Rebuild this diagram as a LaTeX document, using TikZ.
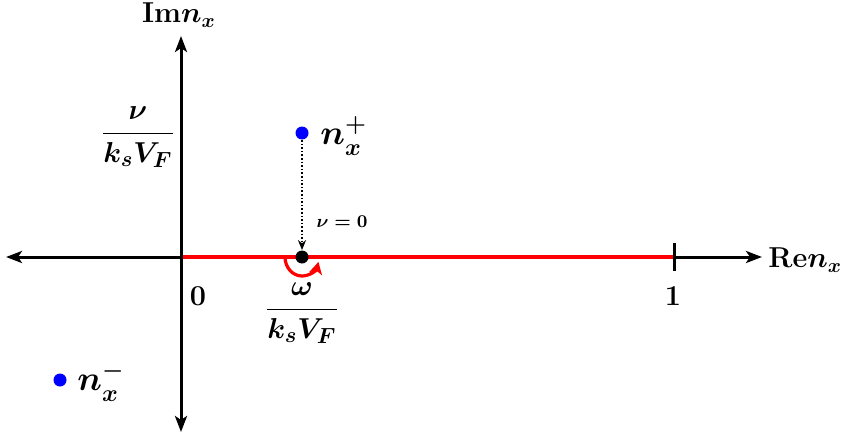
\documentclass[tikz,border=0pt]{standalone}
\usepackage{amsmath}
\usetikzlibrary{arrows.meta}
\begin{document}
\begin{tikzpicture}[x=0.5pt,y=-0.5pt,
  axis/.style={line width=1.5pt,{Stealth[length=8pt,width=6pt,inset=2pt]}-{Stealth[length=8pt,width=6pt,inset=2pt]}},
  redline/.style={red,line width=2pt},
  pt/.style={circle,fill=#1,inner sep=0pt,minimum size=6.5pt},
  lab/.style={font=\LARGE\boldmath,inner sep=1pt},
  frac/.style={font=\fontsize{15.5}{18}\selectfont\boldmath,inner sep=1pt},
  axlab/.style={font=\Large\boldmath,inner sep=1pt}]
\useasboundingbox (0,0) rectangle (844,433);
\coordinate (xl) at (6,257);
\coordinate (xr) at (762,257);
\coordinate (yt) at (181,36);
\coordinate (yb) at (181,432);
\coordinate (O) at (181,257);
\coordinate (one) at (674,257);
\draw[axis] (xl) -- (xr);
\draw[axis] (yb) -- (yt);
\draw[redline] (182.5,257) -- (one);
\draw[line width=1.5pt] (674,243) -- (674,271);
\node[pt=black] (w) at (302,257) {};
\draw[red,line width=1.6pt,-{Stealth[length=6pt,width=6.5pt,inset=1.5pt]}] (285,257) arc[start angle=180,end angle=15,x radius=17,y radius=19];
\node[pt=blue] (np) at (302,133) {};
\node[pt=blue] (nm) at (60,380) {};
\draw[densely dotted,line width=0.8pt,-{Stealth[length=5pt,width=4pt]}] (np) -- (w);
\node[lab,anchor=west] at (318,136) {$n_x^+$};
\node[lab,anchor=west] at (75,382) {$n_x^-$};
\node[font=\small\boldmath] at (342,222) {$\nu=0$};
\node[frac] at (302,313) {$\dfrac{\omega}{k_sV_F}$};
\node[frac] at (138,137) {$\dfrac{\nu}{k_sV_F}$};
\node[axlab] at (179,15) {$\mathrm{Im}n_x$};
\node[axlab,anchor=west] at (766,260) {$\mathrm{Re}n_x$};
\node[font=\Large\boldmath] at (198,296) {$0$};
\node[font=\Large\boldmath] at (673,296) {$1$};
\end{tikzpicture}
\end{document}
